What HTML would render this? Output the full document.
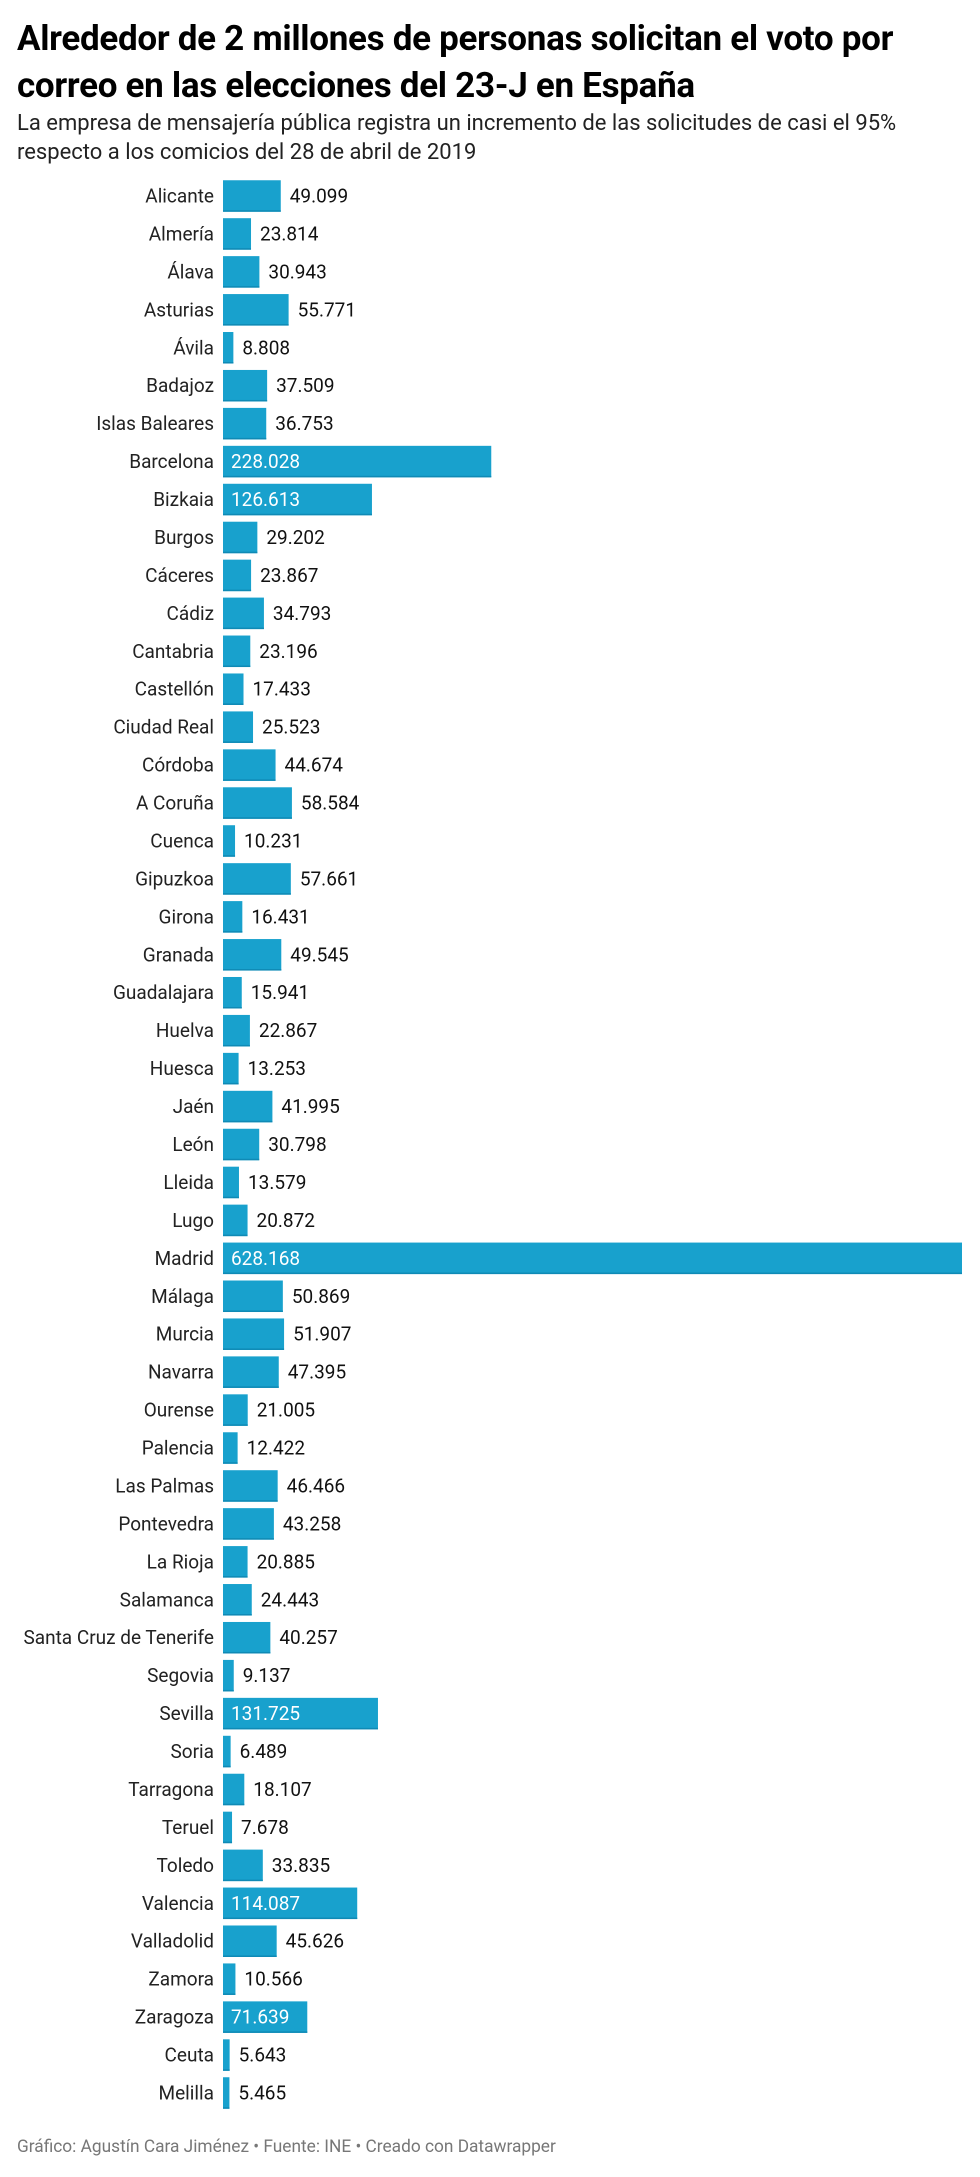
<!DOCTYPE html>
<html><head><meta charset="utf-8"><style>
body{margin:0;background:#fff;font-family:"Roboto","Liberation Sans",sans-serif;width:980px;height:2177px;overflow:hidden;position:relative}
h1{position:absolute;left:17px;top:15px;margin:0;font-size:35px;line-height:47px;font-weight:bold;color:#000;white-space:nowrap;letter-spacing:-0.3px}
p.sub{position:absolute;left:17px;top:109px;margin:0;font-size:22px;line-height:29px;color:#222;white-space:nowrap}
.foot{position:absolute;left:17px;top:2137px;font-size:17.3px;color:#777;white-space:nowrap}
svg{position:absolute;left:0;top:0}
</style></head><body>
<h1>Alrededor de 2 millones de personas solicitan el voto por<br>correo en las elecciones del 23-J en España</h1>
<p class="sub">La empresa de mensajería pública registra un incremento de las solicitudes de casi el 95%<br>respecto a los comicios del 28 de abril de 2019</p>
<svg id="chart" width="980" height="2177"></svg>
<div class="foot">Gráfico: Agustín Cara Jiménez • Fuente: INE • Creado con Datawrapper</div>
<script>
const categories=["Alicante","Almería","Álava","Asturias","Ávila","Badajoz","Islas Baleares","Barcelona","Bizkaia","Burgos","Cáceres","Cádiz","Cantabria","Castellón","Ciudad Real","Córdoba","A Coruña","Cuenca","Gipuzkoa","Girona","Granada","Guadalajara","Huelva","Huesca","Jaén","León","Lleida","Lugo","Madrid","Málaga","Murcia","Navarra","Ourense","Palencia","Las Palmas","Pontevedra","La Rioja","Salamanca","Santa Cruz de Tenerife","Segovia","Sevilla","Soria","Tarragona","Teruel","Toledo","Valencia","Valladolid","Zamora","Zaragoza","Ceuta","Melilla"];
const values=[49099,23814,30943,55771,8808,37509,36753,228028,126613,29202,23867,34793,23196,17433,25523,44674,58584,10231,57661,16431,49545,15941,22867,13253,41995,30798,13579,20872,628168,50869,51907,47395,21005,12422,46466,43258,20885,24443,40257,9137,131725,6489,18107,7678,33835,114087,45626,10566,71639,5643,5465];
const NS="http://www.w3.org/2000/svg";
const svg=document.getElementById('chart');
const x0=223,W=739,y0=196,step=37.94,bh=31.5;
const maxV=Math.max(...values);
const xScale=v=>v/maxV*W;
const yScale=i=>y0+i*step;
const fmt=v=>v.toString().replace(/\B(?=(\d{3})+(?!\d))/g,'.');
categories.forEach((c,i)=>{
  const cy=yScale(i),w=xScale(values[i]);
  const lab=document.createElementNS(NS,'text');
  
  
  lab.setAttribute('x',214);lab.setAttribute('y',cy+6.5);lab.setAttribute('text-anchor','end');
  lab.setAttribute('font-size','19');lab.setAttribute('fill','#222');lab.textContent=c;svg.appendChild(lab);
  const r=document.createElementNS(NS,'rect');
  
  
  r.setAttribute('x',x0);r.setAttribute('y',cy-bh/2);r.setAttribute('width',w);r.setAttribute('height',bh);
  r.setAttribute('fill','#18a1cd');svg.appendChild(r);
  const b=document.createElementNS(NS,'rect');
  
  
  b.setAttribute('x',x0);b.setAttribute('y',cy+bh/2-1.5);b.setAttribute('width',w);b.setAttribute('height',1.5);
  b.setAttribute('fill','#0f8ab5');svg.appendChild(b);
  const inside=w>78;
  const t=document.createElementNS(NS,'text');
  
  
  t.setAttribute('x',inside?x0+8:x0+w+9);t.setAttribute('y',cy+6.5);
  t.setAttribute('font-size','19');t.setAttribute('fill',inside?'#fff':'#111');
  t.textContent=fmt(values[i]);svg.appendChild(t);
});
</script>
</body></html>
